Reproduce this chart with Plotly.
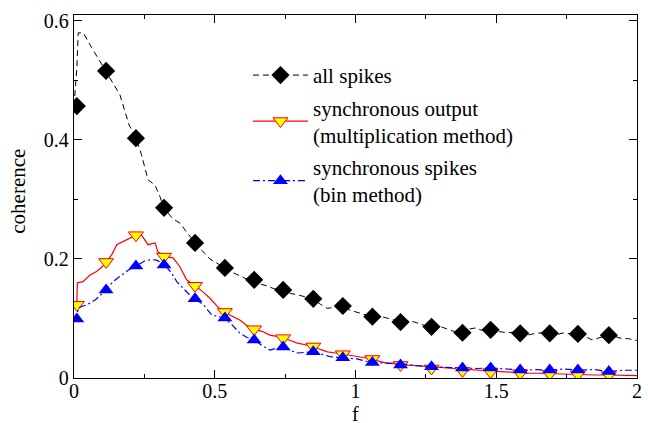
import plotly.graph_objects as go

# ---- data ----
# all spikes: dense dashed curve
all_line_x = [0.0, 0.01, 0.015, 0.033, 0.063, 0.092, 0.114, 0.139, 0.163, 0.181, 0.196, 0.22,
              0.24, 0.263, 0.288, 0.305, 0.32, 0.35, 0.377, 0.40, 0.43, 0.455, 0.483, 0.51, 0.536,
              0.56, 0.583, 0.61, 0.64, 0.66, 0.685, 0.71, 0.743, 0.77, 0.80, 0.825, 0.85, 0.875,
              0.90, 0.93, 0.955, 0.98, 1.005, 1.03, 1.06, 1.085, 1.11, 1.135, 1.16, 1.185, 1.21,
              1.24, 1.27, 1.29, 1.31, 1.345, 1.38, 1.40, 1.425, 1.45, 1.48, 1.51, 1.54, 1.56,
              1.585, 1.61, 1.63, 1.66, 1.69, 1.715, 1.74, 1.765, 1.79, 1.815, 1.84, 1.87, 1.90,
              1.92, 1.94, 1.97, 2.0]
all_line_y = [0.457, 0.52, 0.58, 0.58, 0.555, 0.532, 0.516, 0.496, 0.476, 0.448, 0.425, 0.403,
              0.375, 0.333, 0.324, 0.305, 0.286, 0.268, 0.26, 0.245, 0.227, 0.214, 0.200, 0.192,
              0.185, 0.178, 0.173, 0.167, 0.165, 0.158, 0.155, 0.150, 0.148, 0.142, 0.139, 0.136,
              0.133, 0.124, 0.117, 0.119, 0.121, 0.114, 0.111, 0.107, 0.103, 0.104, 0.101, 0.097,
              0.094, 0.096, 0.094, 0.089, 0.086, 0.087, 0.085, 0.079, 0.076, 0.082, 0.084, 0.080,
              0.081, 0.078, 0.076, 0.077, 0.075, 0.072, 0.074, 0.076, 0.075, 0.073, 0.076, 0.074,
              0.074, 0.070, 0.064, 0.068, 0.072, 0.070, 0.067, 0.066, 0.063]

# synchronous output (multiplication method): solid red curve
mult_line_x = [0.0, 0.01, 0.012, 0.032, 0.057, 0.08, 0.098, 0.114, 0.134, 0.152, 0.175, 0.199,
               0.22, 0.24, 0.263, 0.288, 0.298, 0.323, 0.352, 0.376, 0.40, 0.43, 0.455, 0.483,
               0.51, 0.533, 0.56, 0.59, 0.615, 0.64, 0.67, 0.696, 0.72, 0.743, 0.77, 0.79, 0.82,
               0.85, 0.875, 0.90, 0.93, 0.955, 0.98, 1.005, 1.03, 1.06, 1.085, 1.11, 1.14, 1.165,
               1.21, 1.25, 1.30, 1.35, 1.40, 1.45, 1.50, 1.55, 1.60, 1.65, 1.70, 1.75, 1.80, 1.85,
               1.90, 1.95, 2.0]
mult_line_y = [0.123, 0.123, 0.160, 0.162, 0.173, 0.179, 0.186, 0.195, 0.207, 0.224, 0.229, 0.235,
               0.240, 0.240, 0.224, 0.227, 0.212, 0.204, 0.202, 0.187, 0.165, 0.155, 0.146, 0.134,
               0.120, 0.111, 0.104, 0.097, 0.088, 0.082, 0.078, 0.072, 0.070, 0.067, 0.063, 0.059,
               0.056, 0.053, 0.048, 0.044, 0.042, 0.040, 0.038, 0.036, 0.034, 0.032, 0.028, 0.025,
               0.024, 0.022, 0.021, 0.020, 0.018, 0.016, 0.014, 0.012, 0.011, 0.010, 0.008, 0.008,
               0.007, 0.006, 0.006, 0.005, 0.005, 0.005, 0.004]

# synchronous spikes (bin method): blue dash-dot curve
bin_line_x = [0.0, 0.01, 0.015, 0.045, 0.075, 0.095, 0.114, 0.139, 0.163, 0.192, 0.22, 0.252,
              0.276, 0.294, 0.323, 0.347, 0.365, 0.388, 0.41, 0.43, 0.46, 0.489, 0.533, 0.56,
              0.59, 0.615, 0.64, 0.67, 0.696, 0.72, 0.743, 0.77, 0.795, 0.82, 0.85, 0.88, 0.91,
              0.955, 1.005, 1.03, 1.06, 1.11, 1.165, 1.21, 1.26, 1.32, 1.38, 1.43, 1.48, 1.53,
              1.585, 1.64, 1.69, 1.74, 1.79, 1.85, 1.90, 1.95, 2.0]
bin_line_y = [0.099, 0.099, 0.118, 0.123, 0.131, 0.140, 0.148, 0.162, 0.170, 0.181, 0.188, 0.197,
              0.199, 0.198, 0.190, 0.176, 0.162, 0.151, 0.140, 0.133, 0.123, 0.106, 0.101, 0.090,
              0.075, 0.068, 0.064, 0.054, 0.047, 0.050, 0.052, 0.046, 0.042, 0.043, 0.044, 0.040,
              0.036, 0.034, 0.032, 0.029, 0.026, 0.025, 0.024, 0.021, 0.019, 0.018, 0.017, 0.016,
              0.017, 0.015, 0.0135, 0.014, 0.0135, 0.015, 0.0135, 0.014, 0.011, 0.013, 0.013]

# marker positions
mk_x = [0.01, 0.114, 0.22, 0.32, 0.43, 0.536, 0.64, 0.743, 0.85, 0.955, 1.06, 1.16, 1.27,
        1.38, 1.48, 1.585, 1.69, 1.79, 1.90]
all_mk_y = [0.457, 0.516, 0.403, 0.286, 0.227, 0.185, 0.165, 0.148, 0.133, 0.121, 0.103, 0.094,
            0.086, 0.076, 0.081, 0.075, 0.075, 0.074, 0.072]
mult_mk_y = [0.123, 0.195, 0.240, 0.204, 0.155, 0.111, 0.082, 0.067, 0.053, 0.040, 0.032, 0.022,
             0.016, 0.012, 0.010, 0.008, 0.007, 0.006, 0.005]
bin_mk_y = [0.099, 0.148, 0.188, 0.190, 0.133, 0.101, 0.064, 0.052, 0.044, 0.034, 0.026, 0.022,
            0.019, 0.017, 0.017, 0.0135, 0.0135, 0.0135, 0.011]

names = ["all spikes", "synchronous output<br>(multiplication method)",
         "synchronous spikes<br>(bin method)"]
x_title = "f"
y_title = "coherence"

FONT = "Liberation Serif"

black_m = dict(symbol="diamond", size=14, color="black", line=dict(color="black", width=0))
red_m = dict(symbol="triangle-down", size=13, color="yellow", line=dict(color="red", width=1))
blue_m = dict(symbol="triangle-up", size=13, color="blue", line=dict(color="blue", width=0))
black_l = dict(color="black", width=1, dash="6px,4px")
red_l = dict(color="red", width=1.2)
blue_l = dict(color="blue", width=1.2, dash="7px,3px,2px,3px")

fig = go.Figure()
for i, (lx, ly, mky, ln, mk, nm) in enumerate([
    (all_line_x, all_line_y, all_mk_y, black_l, black_m, names[0]),
    (mult_line_x, mult_line_y, mult_mk_y, red_l, red_m, names[1]),
    (bin_line_x, bin_line_y, bin_mk_y, blue_l, blue_m, names[2]),
]):
    fig.add_trace(go.Scatter(x=lx, y=ly, mode="lines", line=ln, showlegend=False,
                             hoverinfo="skip"))
    fig.add_trace(go.Scatter(x=mk_x, y=mky, mode="markers", marker=mk, showlegend=False))
    # legend-only entry (no data points)
    fig.add_trace(go.Scatter(x=[None], y=[None], mode="lines+markers", line=ln, marker=mk,
                             name=nm, showlegend=True, legendgroup="g%d" % i))

axis_common = dict(showline=True, linecolor="black", linewidth=1.3, mirror="ticks",
                   ticks="inside", ticklen=8, tickcolor="black", tickwidth=1,
                   showgrid=False, zeroline=False, automargin=False,
                   tickfont=dict(family=FONT, size=20, color="black"))

fig.update_xaxes(range=[0, 2], dtick=0.5, tick0=0, ticklabelstandoff=-5,
                 minor=dict(ticks="inside", ticklen=4, dtick=0.25, tickcolor="black"),
                 **axis_common)
fig.update_yaxes(range=[0, 0.61], dtick=0.2, tick0=0,
                 minor=dict(ticks="inside", ticklen=4, dtick=0.1, tickcolor="black"),
                 **axis_common)

fig.add_annotation(text=x_title, xref="paper", yref="paper", x=0.5, y=-0.099,
                   xanchor="center", yanchor="middle", showarrow=False,
                   font=dict(family=FONT, size=20, color="black"))
fig.add_annotation(text=y_title, xref="paper", yref="paper", x=-0.100, y=0.515,
                   xanchor="center", yanchor="middle", textangle=-90, showarrow=False,
                   font=dict(family=FONT, size=21, color="black"))

fig.update_layout(
    width=648, height=423,
    margin=dict(l=74, r=11, t=15, b=45),
    plot_bgcolor="white", paper_bgcolor="white",
    font=dict(family=FONT, size=20, color="black"),
    legend=dict(x=0.309, y=0.89, xanchor="left", yanchor="top",
                bgcolor="rgba(0,0,0,0)", itemwidth=55, tracegroupgap=2,
                font=dict(family=FONT, size=21, color="black")),
)

fig.write_html("out.html", config={"displayModeBar": False},
               post_script="document.body.style.margin='0';")
